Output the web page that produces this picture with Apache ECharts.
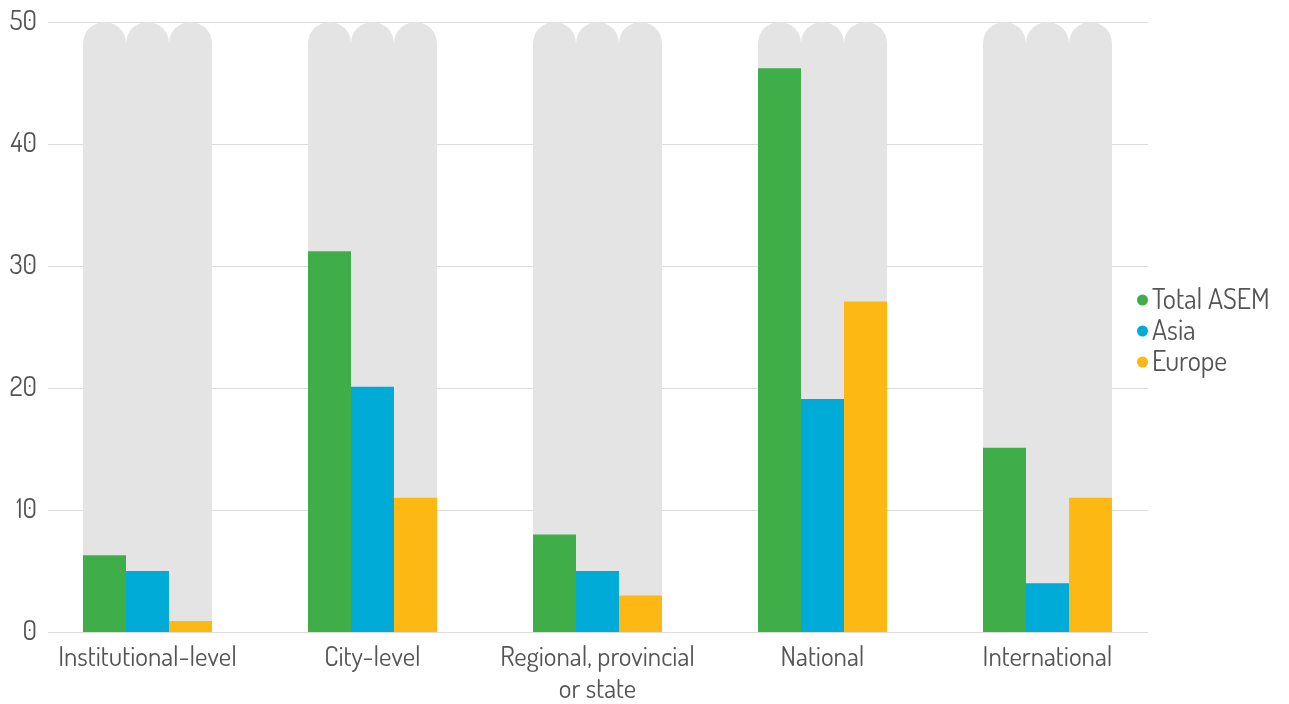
<!DOCTYPE html>
<html>
<head>
<meta charset="utf-8">
<script src="https://cdn.jsdelivr.net/npm/echarts@6/dist/echarts.min.js"></script>
<style>
  html, body { margin: 0; padding: 0; background: #ffffff; }
  #chart { width: 1289px; height: 704px; }
</style>
</head>
<body>
<div id="chart"></div>
<script>
// Level of policy coverage, by region
const categories = ['Institutional-level', 'City-level', 'Regional, provincial\nor state', 'National', 'International'];
const totalAsem = [6.3, 31.2, 8.0, 46.2, 15.1];
const asia = [5.0, 20.1, 5.0, 19.1, 4.0];
const europe = [0.9, 11.0, 3.0, 27.1, 11.0];
const seriesNames = ['Total ASEM', 'Asia', 'Europe'];
const yTicks = { min: 0, max: 50, interval: 10 };

const FONT = 'Dosis, "Liberation Sans Narrow", "DejaVu Sans Condensed", Roboto, sans-serif';
const TEXT = '#555555';
const FS = 27;
const colors = ['#3fae49', '#00acd7', '#fdb813'];

const chart = echarts.init(document.getElementById('chart'));

function barSeries(name, data, color) {
  return {
    name: name,
    type: 'bar',
    xAxisIndex: 1,
    yAxisIndex: 1,
    data: data,
    barWidth: 43,
    barGap: '0%',
    itemStyle: { color: color },
    showBackground: true,
    backgroundStyle: { color: '#e4e4e4', borderRadius: [22, 22, 0, 0] },
    emphasis: { disabled: true }
  };
}

chart.setOption({
  animation: false,
  textStyle: { fontFamily: FONT },
  color: colors,
  legend: {
    orient: 'vertical',
    left: 1132,
    top: 281,
    icon: 'circle',
    itemWidth: 11,
    itemHeight: 11,
    itemGap: 3,
    data: seriesNames,
    textStyle: { color: TEXT, fontSize: 28, lineHeight: 28, fontFamily: FONT, padding: [0, 0, 0, -1] }
  },
  grid: [
    // value scale with its gridlines
    { left: 48, right: 141, top: 22, bottom: 72, containLabel: false, outerBoundsMode: 'none' },
    // category bands holding the bar groups
    { left: 35, right: 129, top: 22, bottom: 72, containLabel: false, outerBoundsMode: 'none' }
  ],
  xAxis: [
    { gridIndex: 0, type: 'category', data: categories, show: false },
    {
      gridIndex: 1,
      type: 'category',
      data: categories,
      axisLine: { show: false },
      axisTick: { show: false },
      axisLabel: {
        interval: 0,
        color: TEXT,
        fontSize: FS,
        fontFamily: FONT,
        margin: 10,
        lineHeight: 32
      }
    }
  ],
  yAxis: [
    {
      gridIndex: 0,
      type: 'value',
      min: yTicks.min,
      max: yTicks.max,
      interval: yTicks.interval,
      axisLine: { show: false },
      axisTick: { show: false },
      splitLine: { lineStyle: { color: '#dcdcdc', width: 1 } },
      axisLabel: { color: TEXT, fontSize: FS, fontFamily: FONT, margin: 11 }
    },
    {
      gridIndex: 1,
      type: 'value',
      min: yTicks.min,
      max: yTicks.max,
      interval: yTicks.interval,
      show: false
    }
  ],
  series: [
    barSeries(seriesNames[0], totalAsem, colors[0]),
    barSeries(seriesNames[1], asia, colors[1]),
    barSeries(seriesNames[2], europe, colors[2])
  ]
});
</script>
</body>
</html>
